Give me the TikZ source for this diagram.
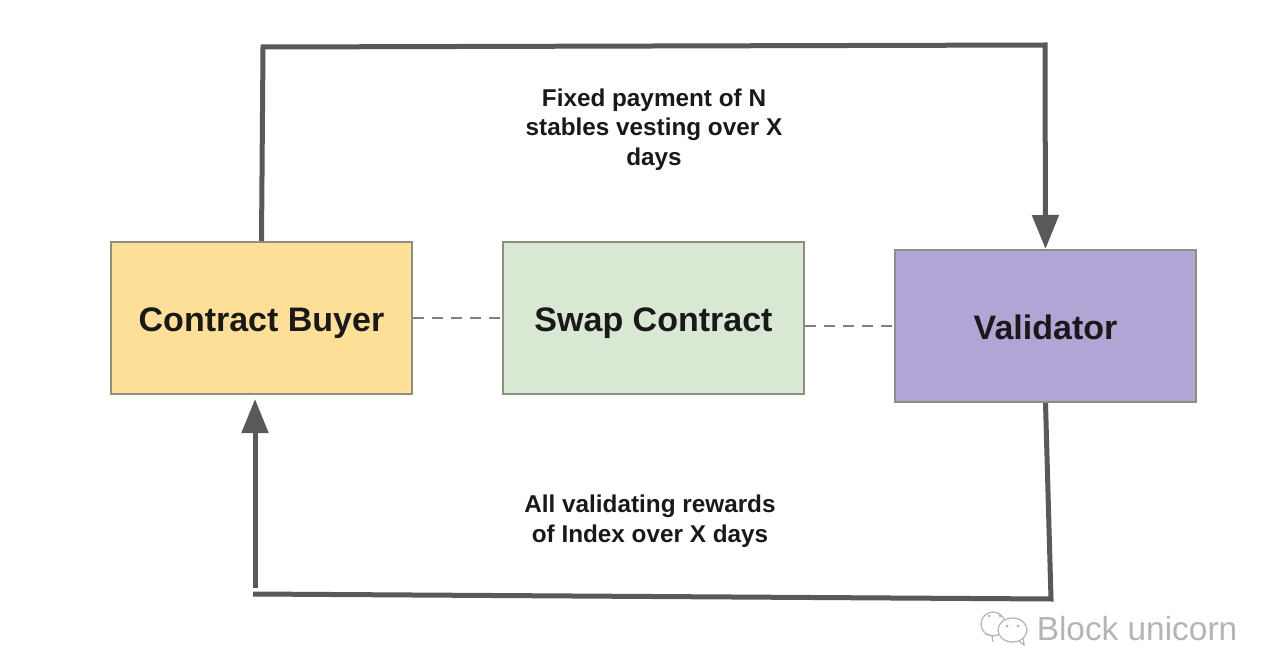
\documentclass[tikz,border=0pt]{standalone}
\usepackage{fontspec}
\setmainfont{Liberation Sans}
\usetikzlibrary{arrows.meta}
\definecolor{linegray}{HTML}{595959}
\definecolor{boxedge}{HTML}{8F8F80}
\definecolor{buyerfill}{HTML}{FDDF97}
\definecolor{swapfill}{HTML}{D9E8D3}
\definecolor{validfill}{HTML}{B2A5D6}
\definecolor{markgray}{HTML}{B4B4B4}
\begin{document}
\begin{tikzpicture}[x=1pt,y=-1pt,>={Triangle[length=34pt,width=26pt]},
partybox/.style={draw=boxedge,line width=2pt,minimum width=301pt,minimum height=152pt,inner sep=0pt,text height=30pt,text depth=2pt,font=\bfseries\fontsize{34}{34}\selectfont,text=black!90},
flowlabel/.style={align=center,inner sep=0pt,font=\bfseries\fontsize{24.3}{29.5}\selectfont,text=black!90},
flowline/.style={draw=linegray,line width=5pt},
dashline/.style={draw=gray,line width=2pt,dash pattern=on 11pt off 8pt},
markline/.style={draw=markgray,line width=1.2pt}]
\useasboundingbox (0,0) rectangle (1280,652);
\node[partybox,fill=buyerfill](buyer) at (261.5,318){Contract Buyer};
\node[partybox,fill=swapfill](swap) at (653.5,318){Swap Contract};
\node[partybox,fill=validfill](valid) at (1045.5,326){Validator};
\node[flowlabel](fixed) at (654,129.5){Fixed payment of N\\stables vesting over X\\days};
\node[flowlabel](rewards) at (650,521){All validating rewards\\of Index over X days};
\node[inner sep=0pt,text=markgray,font=\fontsize{33.4}{33.4}\selectfont](mark) at (1137,629){Block unicorn};
\coordinate(topl) at (263,47);
\coordinate(topr) at (1045,45);
\coordinate(botr) at (1051,599);
\coordinate(botl) at (253,594);
\coordinate(upstart) at (255,588);
\draw[flowline,->](buyer.north)--(topl)--(topr)--(valid.north);
\draw[flowline](valid.south)--(botr)--(botl);
\draw[flowline,->,shorten >=4pt](upstart)--(buyer.south-|upstart);
\draw[dashline](buyer.east)--(swap.west);
\draw[dashline](swap.east|-valid)--(valid.west);
% wechat mark
\draw[markline](993,642)--(992,636) (993,636)--(985,634);
\draw[markline](993,624) ellipse[x radius=12pt,y radius=12pt];
\draw[markline,fill=white](1012.5,630) ellipse[x radius=14.5pt,y radius=12pt];
\draw[markline](1019,641)--(1024,645)--(1023,638);
\foreach \dotx/\doty in {989/616,1000/616,1007/626,1018/626}
  \fill[markgray](\dotx,\doty) circle[radius=1.5pt];
\end{tikzpicture}
\end{document}
